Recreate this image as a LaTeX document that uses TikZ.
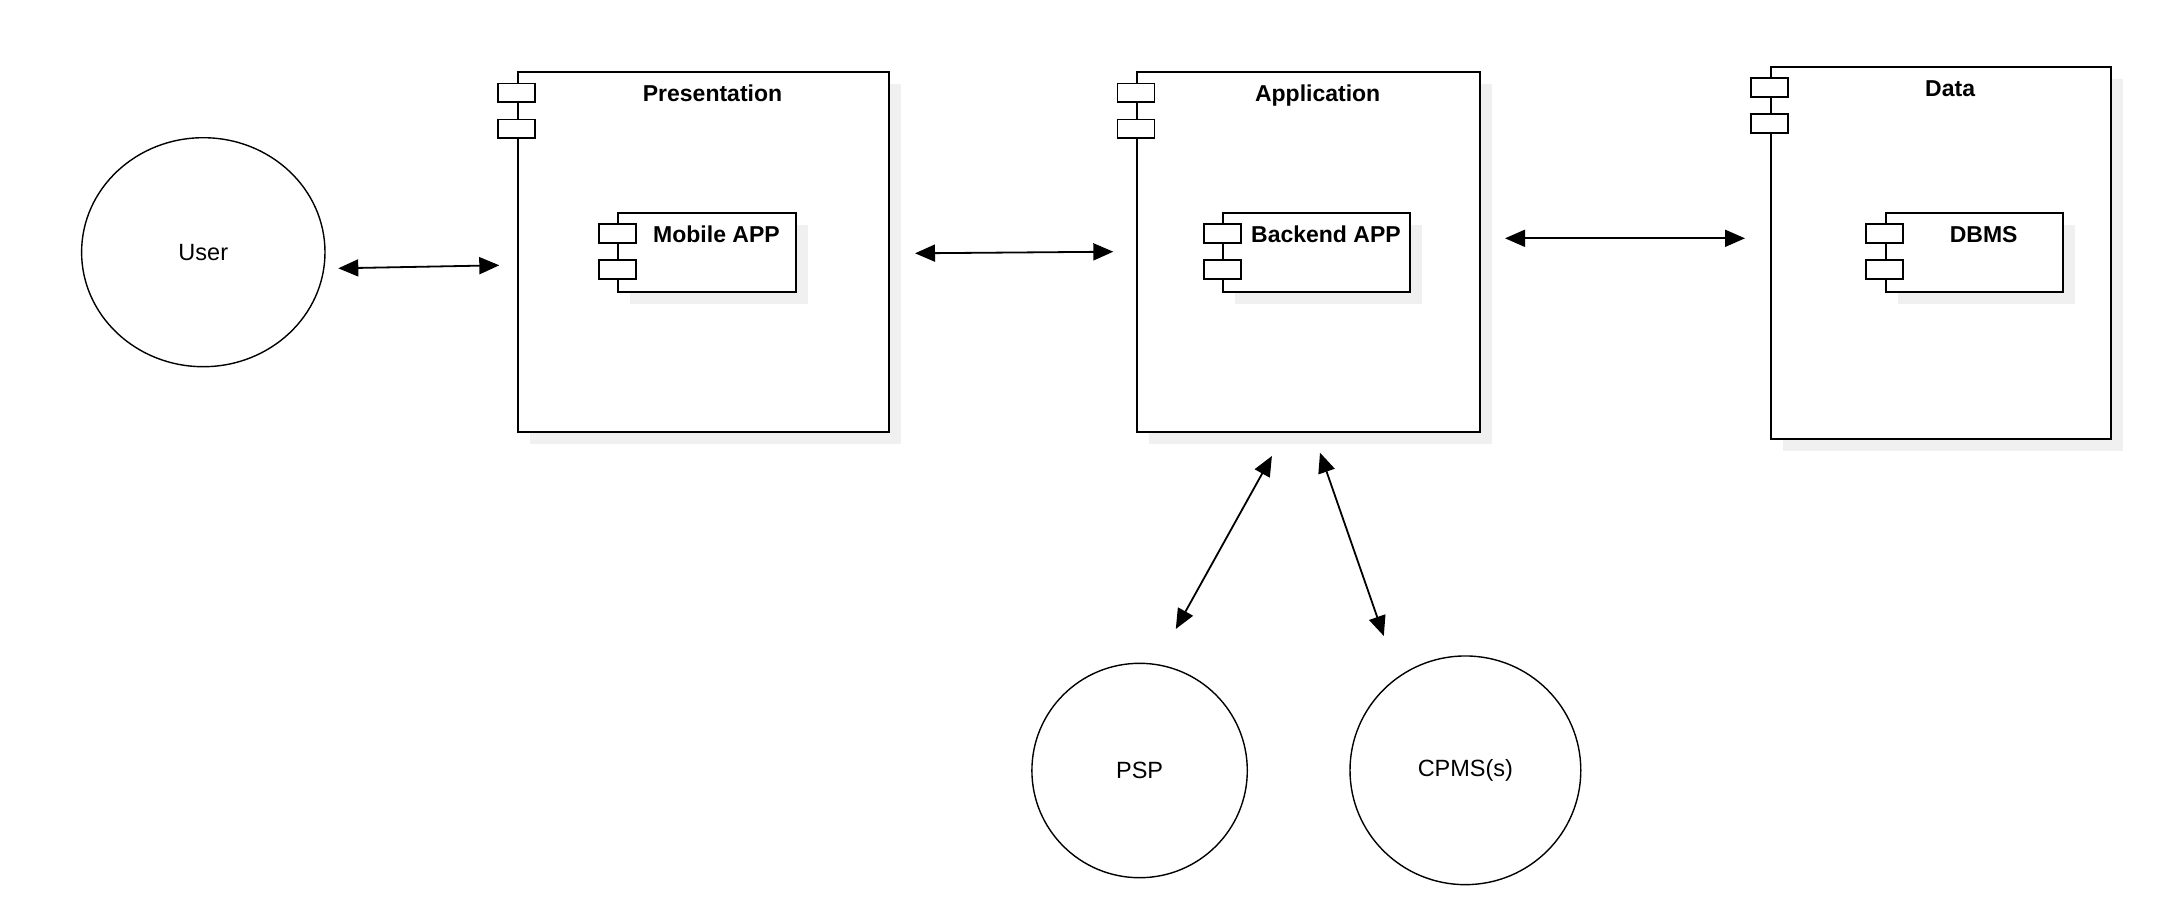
\documentclass[tikz,border=0pt]{standalone}
\usepackage{fontspec}
\setmainfont{Liberation Sans}
\usetikzlibrary{arrows.meta,shadows,shapes.geometric}
\definecolor{myShadow}{RGB}{240,240,240}

\begin{document}
\begin{tikzpicture}[%
    x=1pt, y=-1pt,
    every node/.style={font=\fontsize{23.5}{28}\selectfont},
    comp/.style={draw, fill=white, line width=1.8pt, anchor=north west, inner sep=0pt,
        general shadow={fill=myShadow, shadow xshift=12pt, shadow yshift=-12pt}},
    port/.style={draw, fill=white, line width=1.8pt, minimum width=37pt,
        minimum height=18.5pt, inner sep=0pt},
    title/.style={anchor=base, font=\bfseries\fontsize{23}{28}\selectfont},
    actor/.style={draw, ellipse, line width=1.4pt, inner sep=0pt},
    link/.style={line width=1.8pt,
        {Triangle[length=20pt,width=17pt]}-{Triangle[length=20pt,width=17pt]}},
]
\useasboundingbox (0,0) rectangle (2158,908);

% place outer components
\node[comp, minimum width=371.3pt, minimum height=360pt] (pres) at (516.7,71) {};
\node[comp, minimum width=343pt, minimum height=360pt] (appl) at (1136,71) {};
\node[comp, minimum width=340.6pt, minimum height=372.6pt] (data) at (1769.7,65.7) {};

% place inner components
\node[comp, minimum width=178pt, minimum height=79pt] (mob) at (617.3,211.7) {};
\node[comp, minimum width=187pt, minimum height=79pt] (back) at (1222.3,211.7) {};
\node[comp, minimum width=177.6pt, minimum height=79pt] (dbms) at (1884.7,211.7) {};

% draw ports and titles
\foreach \c in {pres,appl,data,mob,back,dbms} {
    \node[port] (\c-p1) at ([yshift=-21.75pt]\c.north west) {};
    \node[port] (\c-p2) at ([yshift=-57.75pt]\c.north west) {};
}
\foreach \c/\t in {pres/Presentation,appl/Application,data/Data,
                   mob/Mobile APP,back/Backend APP,dbms/DBMS} {
    \node[title] (\c-t) at ([xshift=9.25pt,yshift=-30.5pt]\c.north) {\t};
}

% place actors
\node[actor, minimum width=243.4pt, minimum height=229pt] (user) at (203.3,252.2) {User};
\node[actor, minimum width=215.4pt, minimum height=214.4pt] (psp) at (1139.6,770.5) {PSP};
\node[actor, minimum width=230.8pt, minimum height=228.7pt] (cpms) at (1465.4,770.3) {CPMS(s)};

% arrow ends
\coordinate (user-e) at (338.3,268.3);
\coordinate (pres-w) at (499.3,265.3);
\coordinate (pres-e) at (915,253.3);
\coordinate (appl-w) at (1113.3,251.7);
\coordinate (appl-e) at (1505,238.3);
\coordinate (data-w) at (1745,238.3);
\coordinate (appl-s1) at (1271.9,456);
\coordinate (psp-n) at (1175.8,629);
\coordinate (appl-s2) at (1320,452.7);
\coordinate (cpms-n) at (1383.8,636);

% draw links
\draw[link] (user-e) -- (pres-w);
\draw[link] (pres-e) -- (appl-w);
\draw[link] (appl-e) -- (data-w);
\draw[link] (appl-s1) -- (psp-n);
\draw[link] (appl-s2) -- (cpms-n);

\end{tikzpicture}
\end{document}
